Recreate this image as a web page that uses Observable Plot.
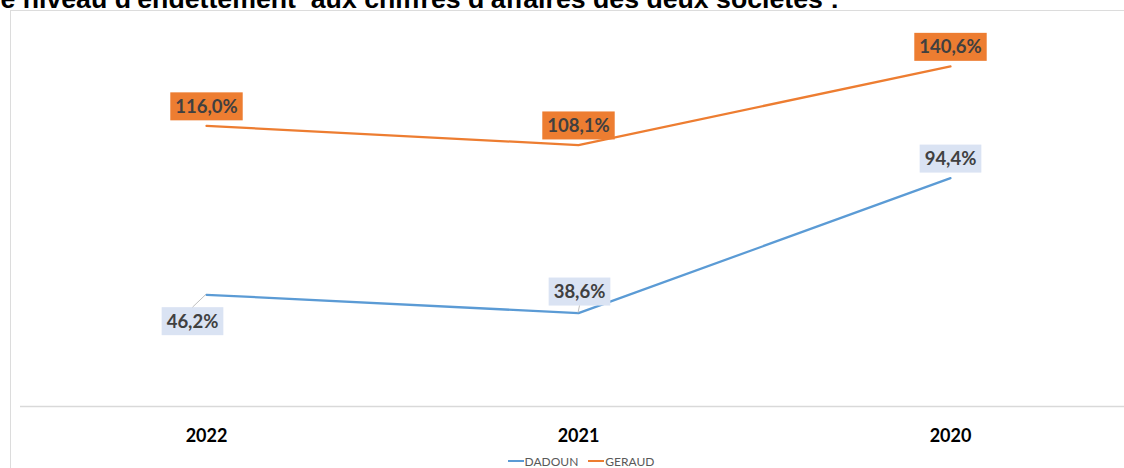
<!DOCTYPE html>
<html>
<head>
<meta charset="utf-8">
<script src="https://cdn.jsdelivr.net/npm/d3@7"></script>
<script src="https://cdn.jsdelivr.net/npm/@observablehq/plot@0.6"></script>
<style>
  html, body { margin: 0; padding: 0; background: #fff; overflow: hidden; }
  #wrap { position: relative; width: 1124px; height: 468px; overflow: hidden; }
  #frame { position: absolute; left: 10px; top: 10px; width: 1200px; height: 600px; border: 1px solid #dcdcdc; box-sizing: border-box; }
  #title { position: absolute; left: -7px; top: -14px; font: bold 26.7px "Liberation Sans", Arial, sans-serif; color: #000; white-space: pre; line-height: 26px; }
  #chart { position: absolute; left: 0; top: 0; }
  #legend { position: absolute; top: 451px; left: 0; width: 1124px; text-align: center; font: 12px Lato, sans-serif; color: #595959; padding-left: 38px; box-sizing: border-box; line-height: 13px; }
  #legend span.item { display: inline-flex; align-items: center; margin: 0 5px; }
  #legend span.sw { display: inline-block; width: 16px; height: 2px; margin-right: 1px; }
</style>
</head>
<body>
<div id="wrap">
  <div id="frame"></div>
  <div id="title">le niveau d'endettement  aux chiffres d'affaires des deux sociétés :</div>
  <div id="chart"></div>
  <div id="legend"></div>
</div>
<script>
const years = ["2022", "2021", "2020"];
const dadoun = [46.2, 38.6, 94.4];
const geraud = [116.0, 108.1, 140.6];
const seriesNames = ["DADOUN", "GERAUD"];
const lineColors = ["#5b9bd5", "#ed7d31"];
const labelFills = ["#dae3f3", "#ed7d31"];

const data = years.flatMap((y, i) => [
  {year: y, series: "DADOUN", value: dadoun[i]},
  {year: y, series: "GERAUD", value: geraud[i]}
]);
const fmt = v => v.toFixed(1).replace(".", ",") + "%";
const lblOpts = {x: "year", y: "value", text: d => fmt(d.value), fill: "#404040", fontWeight: "bold", fontSize: 18.5};

const plot = Plot.plot({
  width: 1124, height: 468,
  marginLeft: 20, marginRight: 0, marginTop: 19, marginBottom: 62,
  style: {background: "transparent", fontFamily: "Lato, sans-serif"},
  x: {type: "point", domain: years, range: [206, 950], padding: 0},
  y: {domain: [0, 160], axis: null},
  color: {domain: seriesNames, range: lineColors},
  marks: [
    Plot.ruleY([0], {stroke: "#d9d9d9", strokeWidth: 1.5}),
    Plot.axisX({tickSize: 0, tickPadding: 23, fontSize: 18, fontWeight: "bold", fill: "#000", label: null}),
    Plot.line(data, {x: "year", y: "value", z: "series", stroke: "series", strokeWidth: 2.25}),
    Plot.text(data.filter(d => d.series === "GERAUD"), {...lblOpts, dy: -19, className: "lbl-geraud"}),
    Plot.text(data.filter(d => d.series === "DADOUN" && d.year === "2020"), {...lblOpts, dy: -19, className: "lbl-dadoun"}),
    Plot.text(data.filter(d => d.series === "DADOUN" && d.year === "2021"), {...lblOpts, dy: -21, dx: 1, className: "lbl-dadoun lead"}),
    Plot.text(data.filter(d => d.series === "DADOUN" && d.year === "2022"), {...lblOpts, dy: 27, dx: -14, className: "lbl-dadoun lead"})
  ]
});
document.getElementById("chart").appendChild(plot);

// label boxes (drawn behind labels, from each label's rendered bounds)
const xs = plot.scale("x"), ys = plot.scale("y");
const NS = "http://www.w3.org/2000/svg";
const svgRect = plot.getBoundingClientRect();
const firstLabel = plot.querySelector(".lbl-geraud");
const boxLayer = document.createElementNS(NS, "g");
firstLabel.parentNode.insertBefore(boxLayer, firstLabel);
function boxify(sel, fill) {
  plot.querySelectorAll(sel).forEach(g => {
    const lead = g.classList.contains("lead");
    g.querySelectorAll("text").forEach(t => {
      const bb = t.getBoundingClientRect();
      const bx = bb.left - svgRect.left, bw = bb.width;
      const cy = bb.top - svgRect.top + bb.height / 2 + 0.5;
      const w = bw + 10, h = 28;
      const r = document.createElementNS(NS, "rect");
      r.setAttribute("x", bx - 5); r.setAttribute("y", cy - h / 2);
      r.setAttribute("width", w); r.setAttribute("height", h);
      r.setAttribute("fill", fill);
      boxLayer.appendChild(r);
      if (lead) {
        const idx = dadoun.findIndex(v => fmt(v) === t.textContent);
        const px = xs.apply(years[idx]), py = ys.apply(dadoun[idx]);
        const cx = bx + bw / 2;
        const ey = py < cy ? cy - h / 2 : cy + h / 2;
        const l = document.createElementNS(NS, "line");
        l.setAttribute("x1", px); l.setAttribute("y1", py);
        l.setAttribute("x2", cx); l.setAttribute("y2", ey);
        l.setAttribute("stroke", "#bfbfbf"); l.setAttribute("stroke-width", 1);
        boxLayer.appendChild(l);
      }
    });
  });
}
boxify(".lbl-geraud", labelFills[1]);
boxify(".lbl-dadoun", labelFills[0]);

// legend
const legend = document.getElementById("legend");
seriesNames.forEach((s, i) => {
  const item = document.createElement("span");
  item.className = "item";
  const sw = document.createElement("span");
  sw.className = "sw"; sw.style.background = lineColors[i];
  item.appendChild(sw);
  item.appendChild(document.createTextNode(s));
  legend.appendChild(item);
});
</script>
</body>
</html>
